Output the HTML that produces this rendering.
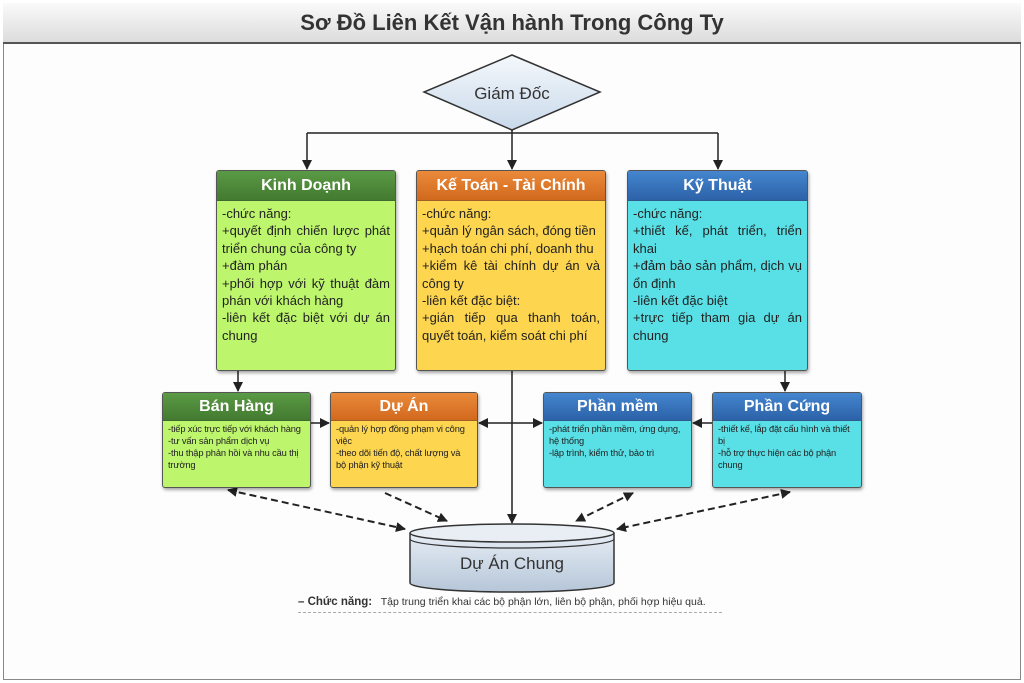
<!DOCTYPE html>
<html><head><meta charset="utf-8"><style>
*{margin:0;padding:0;box-sizing:border-box}
body{width:1024px;height:683px;background:#fff;position:relative;overflow:hidden;font-family:"Liberation Sans","DejaVu Sans",sans-serif;color:#222}
.frame{position:absolute;left:3px;top:3px;width:1018px;height:677px;border:1px solid #888;background:#fdfdfd}
.title{position:absolute;left:3px;top:3px;width:1018px;height:41px;border-bottom:2px solid #555;background:linear-gradient(#fafafa,#dcdcdc);text-align:center;font-weight:bold;font-size:22px;line-height:40px;color:#333}
.box{position:absolute;border:1px solid #555;border-radius:3px;box-shadow:1px 2px 3px rgba(0,0,0,.35);overflow:hidden}
.hd{color:#fff;font-weight:bold;text-align:center;border-bottom:1px solid rgba(0,0,0,.3)}
.bd{position:absolute;left:2px;right:2px;bottom:2px;border-radius:9px;text-align:justify}
.big .hd{height:30px;line-height:30px;font-size:16px}
.big .bd{top:32px;font-size:13px;line-height:17.4px;padding:2px 3px}
.sm .hd{height:28px;line-height:28px;font-size:16px}
.sm .bd{top:29px;font-size:9.3px;line-height:12px;padding:1px 3px;text-align:left;letter-spacing:-0.15px}
.g .hd{background:linear-gradient(#5a9a45,#437a30)}.g .bd{background:#bdf56c}.g{background:#bdf56c}
.o .hd{background:linear-gradient(#ea8a3a,#d2691e)}.o .bd{background:#fdd54e}.o{background:#fdd54e}
.b .hd{background:linear-gradient(#4486cf,#2c62a8)}.b .bd{background:#58e0e6}.b{background:#58e0e6}
.cap{position:absolute;left:298px;top:596px;font-size:10.5px;color:#333;width:424px;border-bottom:1px dashed #aaa;padding-bottom:4px}
</style></head><body>
<div class="frame"></div>
<div class="title">Sơ Đồ Liên Kết Vận hành Trong Công Ty</div>
<svg width="1024" height="683" style="position:absolute;left:0;top:0">
<defs>
<marker id="a" markerWidth="10" markerHeight="10" refX="9" refY="5" orient="auto-start-reverse" markerUnits="userSpaceOnUse"><path d="M0,0 L10,5 L0,10 z" fill="#222"/></marker>
<linearGradient id="dg" x1="0" y1="0" x2="0" y2="1"><stop offset="0" stop-color="#f4f8fc"/><stop offset="1" stop-color="#c9d9ea"/></linearGradient>
<linearGradient id="cg" x1="0" y1="0" x2="0" y2="1"><stop offset="0" stop-color="#e6edf5"/><stop offset="1" stop-color="#b6c6d8"/></linearGradient>
</defs>
<polygon points="512,55 600,92 512,130 424,92" fill="url(#dg)" stroke="#333" stroke-width="1.5"/>
<text x="512" y="99" text-anchor="middle" font-size="17" fill="#333" font-family="Liberation Sans, sans-serif">Giám Đốc</text>
<g stroke="#222" stroke-width="1.5" fill="none">
<path d="M512 130V133M307 133H718"/>
<path d="M307 133V169" marker-end="url(#a)"/>
<path d="M512 133V169" marker-end="url(#a)"/>
<path d="M718 133V169" marker-end="url(#a)"/>
<path d="M238 371V391" marker-end="url(#a)"/>
<path d="M785 371V391" marker-end="url(#a)"/>
<path d="M311 423H329" marker-end="url(#a)"/>
<path d="M512 423H479" marker-end="url(#a)"/>
<path d="M512 423H542" marker-end="url(#a)"/>
<path d="M712 423H693" marker-end="url(#a)"/>
<path d="M512 371V523" marker-end="url(#a)"/>
</g>
<g stroke="#222" stroke-width="2" stroke-dasharray="7,4" fill="none">
<path d="M228 490L405 529" marker-start="url(#a)" marker-end="url(#a)"/>
<path d="M385 493L447 521" marker-end="url(#a)"/>
<path d="M633 493L576 521" marker-start="url(#a)" marker-end="url(#a)"/>
<path d="M790 492L617 529" marker-start="url(#a)" marker-end="url(#a)"/>
</g>
<path d="M410 533V583A102 9 0 0 0 614 583V533" fill="url(#cg)" stroke="#333" stroke-width="1.5"/>
<path d="M410 539A102 9 0 0 0 614 539" fill="none" stroke="#333" stroke-width="1.2"/>
<ellipse cx="512" cy="533" rx="102" ry="9" fill="#e9eef4" stroke="#333" stroke-width="1.5"/>
<text x="512" y="569" text-anchor="middle" font-size="17" fill="#333" font-family="Liberation Sans, sans-serif">Dự Án Chung</text>
</svg>
<div class="box big g" style="left:216px;top:170px;width:180px;height:201px"><div class="hd">Kinh Doạnh</div><div class="bd">-chức năng:<br>+quyết định chiến lược phát triển chung của công ty<br>+đàm phán<br>+phối hợp với kỹ thuật đàm phán với khách hàng<br>-liên kết đặc biệt với dự án chung</div></div>
<div class="box big o" style="left:416px;top:170px;width:190px;height:201px"><div class="hd">Kế Toán - Tài Chính</div><div class="bd">-chức năng:<br>+quản lý ngân sách, đóng tiền<br>+hạch toán chi phí, doanh thu<br>+kiểm kê tài chính dự án và công ty<br>-liên kết đặc biệt:<br>+gián tiếp qua thanh toán, quyết toán, kiểm soát chi phí</div></div>
<div class="box big b" style="left:627px;top:170px;width:181px;height:201px"><div class="hd">Kỹ Thuật</div><div class="bd">-chức năng:<br>+thiết kế, phát triển, triển khai<br>+đảm bảo sản phẩm, dịch vụ ổn định<br>-liên kết đặc biệt<br>+trực tiếp tham gia dự án chung</div></div>
<div class="box sm g" style="left:162px;top:392px;width:149px;height:96px"><div class="hd">Bán Hàng</div><div class="bd">-tiếp xúc trực tiếp với khách hàng<br>-tư vấn sản phẩm dịch vụ<br>-thu thập phản hồi và nhu cầu thị trường</div></div>
<div class="box sm o" style="left:330px;top:392px;width:148px;height:96px"><div class="hd">Dự Án</div><div class="bd">-quản lý hợp đồng phạm vi công việc<br>-theo dõi tiến độ, chất lượng và bộ phận kỹ thuật</div></div>
<div class="box sm b" style="left:543px;top:392px;width:149px;height:96px"><div class="hd">Phần mềm</div><div class="bd">-phát triển phần mềm, ứng dụng, hệ thống<br>-lập trình, kiểm thử, bảo trì</div></div>
<div class="box sm b" style="left:712px;top:392px;width:150px;height:96px"><div class="hd">Phần Cứng</div><div class="bd">-thiết kế, lắp đặt cấu hình và thiết bị<br>-hỗ trợ thực hiện các bộ phận chung</div></div>
<div class="cap"><b style="font-size:11.5px">– Chức năng:</b>&nbsp;&nbsp; Tập trung triển khai các bộ phận lớn, liên bộ phận, phối hợp hiệu quả.</div>
</body></html>
